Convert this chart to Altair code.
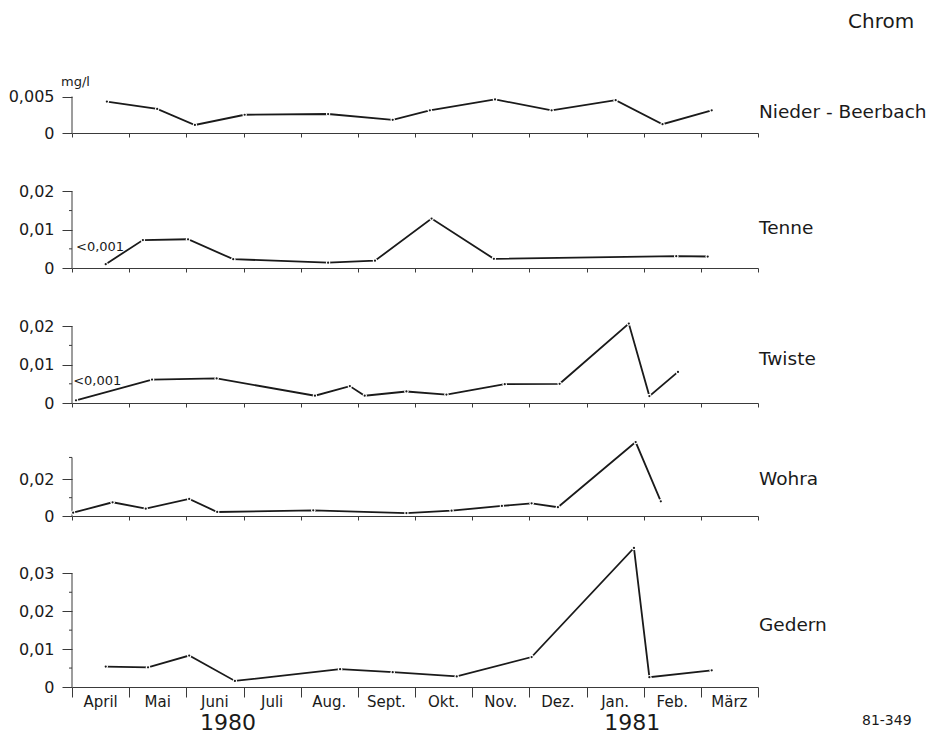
import altair as alt
import pandas as pd

FONT = "DejaVu Sans"

MONTHS = ["April", "Mai", "Juni", "Juli", "Aug.", "Sept.", "Okt.", "Nov.", "Dez.", "Jan.", "Feb.", "März"]
YEARS = ["1980", "1981"]
YEAR_POS = [2.73, 9.8]

NB_x = [0.61, 1.49, 2.15, 3.02, 4.48, 5.61, 6.26, 7.40, 8.39, 9.51, 10.33, 11.19]
NB_y = [0.0043, 0.0033, 0.0011, 0.0025, 0.0026, 0.0018, 0.0031, 0.0046, 0.0031, 0.0045, 0.0012, 0.0031]

TE_x = [0.59, 1.24, 2.03, 2.82, 4.48, 5.30, 6.29, 7.38, 10.57, 11.12]
TE_y = [0.0010, 0.0073, 0.0075, 0.0023, 0.0014, 0.0019, 0.0129, 0.0024, 0.0031, 0.0030]

TW_x = [0.07, 1.40, 2.53, 4.25, 4.86, 5.12, 5.85, 6.55, 7.57, 8.53, 9.74, 10.10, 10.60]
TW_y = [0.0007, 0.0061, 0.0064, 0.0019, 0.0044, 0.0019, 0.0030, 0.0022, 0.0049, 0.0050, 0.0207, 0.0018, 0.0081]

WO_x = [0.02, 0.71, 1.29, 2.05, 2.54, 4.22, 5.85, 6.64, 7.52, 8.04, 8.50, 9.86, 10.30]
WO_y = [0.0018, 0.0075, 0.0040, 0.0093, 0.0022, 0.0031, 0.0016, 0.0029, 0.0055, 0.0069, 0.0048, 0.0404, 0.0080]

GE_x = [0.59, 1.33, 2.05, 2.85, 4.69, 5.61, 6.73, 8.04, 9.83, 10.10, 11.19]
GE_y = [0.0054, 0.0052, 0.0083, 0.0016, 0.0047, 0.0039, 0.0028, 0.0079, 0.0367, 0.0026, 0.0044]

W = 686
INK = "#1a1a1a"
AX = "#3a3a3a"

LABEL_EXPR = "datum.value == 0 ? '0' : replace(toString(datum.value), '.', ',')"


def panel(name, xs, ys, h, ppu, major, minor, top, name_y, bottom=False, notes=None):
    dtop = h / ppu
    df = pd.DataFrame({"m": xs, "v": ys})
    xsc = alt.Scale(domain=[0, 12], nice=False, zero=False)
    ysc = alt.Scale(domain=[0, dtop], nice=False, zero=False)
    xaxis = alt.Axis(values=list(range(13)), labels=False, title=None, grid=False,
                     tickSize=10 if bottom else 4, domainColor=AX, tickColor=AX,
                     domainWidth=1, tickWidth=1)
    yaxis = alt.Axis(values=major, labelExpr=LABEL_EXPR, title=None, grid=False,
                     domain=False, tickSize=10, tickColor=AX, tickWidth=1,
                     labelPadding=8, labelFont=FONT, labelFontSize=16,
                     labelColor=INK, labelBaseline="middle")
    X = alt.X("m:Q", scale=xsc, axis=xaxis)
    Y = alt.Y("v:Q", scale=ysc, axis=yaxis)

    base = alt.Chart(df)
    line = base.mark_line(color=INK, strokeWidth=1.8).encode(x=X, y=Y)
    gaps = base.mark_point(filled=True, color="white", opacity=1, size=20).encode(x=X, y=Y)
    dots = base.mark_point(filled=True, color=INK, opacity=1, size=5).encode(x=X, y=Y)

    yline = alt.Chart(pd.DataFrame({"m": [0], "v": [0], "v2": [top]})).mark_rule(
        color=AX, strokeWidth=1).encode(x=X, y=Y, y2="v2:Q")
    layers = [yline, line, gaps, dots]
    if minor:
        mt = alt.Chart(pd.DataFrame({"v": minor})).mark_rule(color=AX, strokeWidth=1).encode(
            x=alt.value(-3), x2=alt.value(0), y=Y)
        layers.append(mt)

    lab = alt.Chart(pd.DataFrame({"t": [name]})).mark_text(
        align="left", baseline="middle", font=FONT, fontSize=18.5, color=INK).encode(
        text="t:N", x=alt.value(W + 1), y=alt.value(name_y))
    layers.append(lab)

    if notes:
        for (txt, nm, nv, dx, fs) in notes:
            layers.append(alt.Chart(pd.DataFrame({"t": [txt], "m": [nm], "v": [nv]})).mark_text(
                align="left", baseline="middle", font=FONT, fontSize=fs, color=INK, dx=dx).encode(
                text="t:N", x=X, y=Y))

    if bottom:
        mdf = pd.DataFrame({"t": MONTHS, "m": [i + 0.5 for i in range(12)]})
        layers.append(alt.Chart(mdf).mark_text(baseline="middle", font=FONT, fontSize=15,
                                               color=INK).encode(text="t:N", x=X, y=alt.value(h + 15)))
        ydf = pd.DataFrame({"t": YEARS, "m": YEAR_POS})
        layers.append(alt.Chart(ydf).mark_text(baseline="middle", font=FONT, fontSize=22,
                                               color=INK).encode(text="t:N", x=X, y=alt.value(h + 36)))
        layers.append(alt.Chart(pd.DataFrame({"t": ["81-349"]})).mark_text(
            align="left", baseline="middle", font=FONT, fontSize=14, color=INK).encode(
            text="t:N", x=alt.value(790), y=alt.value(h + 34)))

    return alt.layer(*layers).properties(width=W, height=h)


p1 = panel("Nieder - Beerbach", NB_x, NB_y, 125, 7300, [0, 0.005], [], 0.005, 103.7,
           notes=[("mg/l", 0, 0.0070, -11, 13)])
chrom = alt.Chart(pd.DataFrame({"t": ["Chrom"]})).mark_text(
    align="left", baseline="middle", font=FONT, fontSize=20, color=INK).encode(
    text="t:N", x=alt.value(776), y=alt.value(14))
p1 = alt.layer(p1, chrom)

p2 = panel("Tenne", TE_x, TE_y, 135, 3830, [0, 0.01, 0.02], [0.005, 0.015], 0.02, 95,
           notes=[("<0,001", 0.07, 0.0055, 0, 13)])
p3 = panel("Twiste", TW_x, TW_y, 135, 3840, [0, 0.01, 0.02], [0.005, 0.015], 0.02, 91,
           notes=[("<0,001", 0.02, 0.0057, 0, 13)])
p4 = panel("Wohra", WO_x, WO_y, 113, 1830, [0, 0.02], [0.01, 0.032], 0.032, 76)
p5 = panel("Gedern", GE_x, GE_y, 171, 3790, [0, 0.01, 0.02, 0.03], [0.005, 0.015, 0.025], 0.03, 109,
           bottom=True)

chart = alt.vconcat(p1, p2, p3, p4, p5, spacing=0, bounds="flush").properties(
    padding={"left": 0, "top": 0, "right": 5, "bottom": 5}
).configure_view(stroke="transparent", strokeWidth=0)

chart.save("out.html", embed_options={"renderer": "svg", "actions": False})
